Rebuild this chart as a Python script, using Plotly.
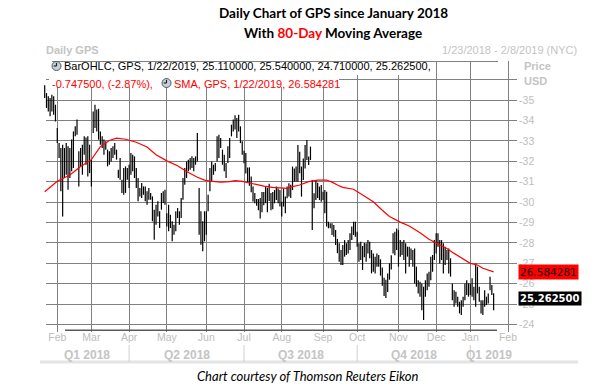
import pandas as pd
import plotly.graph_objects as go

# ------------------------------------------------------------------ data
holidays = ["2018-02-19", "2018-03-30", "2018-05-28", "2018-07-04", "2018-09-03",
            "2018-11-22", "2018-12-05", "2018-12-25", "2019-01-01", "2019-01-21"]
calendar = pd.bdate_range("2018-01-23", "2019-02-08", freq="C", holidays=holidays)

highs = [
    35.72, 35.34, 35.18, 35.10, 35.26, 35.18, 34.77, 33.63, 32.89, 32.65,
    32.81, 32.65, 32.89, 32.73, 32.65, 33.06, 33.46, 33.71, 34.04, 32.49,
    32.65, 32.81, 33.22, 33.17, 33.22, 32.81, 32.08, 34.44, 34.77, 34.53,
    34.57, 33.46, 33.22, 33.06, 32.98, 32.57, 32.49, 32.65, 32.73, 32.89,
    32.57, 31.59, 32.16, 31.10, 31.67, 31.75, 31.67, 31.83, 32.40, 32.32,
    32.24, 31.67, 31.18, 30.69, 30.93, 30.77, 30.77, 30.53, 30.69, 30.45,
    30.28, 29.63, 29.87, 30.04, 29.55, 30.45, 30.53, 30.61, 29.46, 29.87,
    29.38, 29.06, 28.89, 29.55, 29.71, 29.55, 30.20, 31.18, 31.67, 31.99,
    32.08, 32.16, 32.24, 32.16, 32.24, 33.38, 30.69, 29.55, 29.06, 29.55,
    29.55, 30.36, 31.67, 31.99, 31.83, 31.91, 33.22, 33.30, 33.14, 32.57,
    32.32, 31.91, 32.73, 33.14, 33.79, 34.04, 34.25, 34.12, 34.28, 33.71,
    32.98, 32.52, 32.40, 31.70, 31.70, 31.25, 30.77, 30.45, 30.15, 30.15,
    30.20, 30.50, 30.50, 30.78, 30.70, 30.90, 30.45, 30.50, 30.59, 30.76,
    30.67, 30.59, 30.02, 30.67, 30.27, 30.76, 30.92, 30.85, 31.74, 31.65,
    31.74, 32.80, 32.47, 31.74, 32.14, 32.80, 33.04, 32.23, 32.72, 31.08,
    30.43, 31.08, 30.95, 30.76, 30.84, 30.51, 30.59, 30.51, 29.04, 28.96,
    28.96, 28.88, 28.63, 28.20, 27.98, 27.65, 27.90, 28.14, 27.98, 28.14,
    28.47, 28.80, 29.04, 29.04, 28.55, 27.98, 28.06, 27.85, 28.00, 27.98,
    28.14, 28.06, 27.65, 27.49, 27.33, 27.49, 27.41, 27.20, 26.80, 26.30,
    26.20, 26.50, 27.00, 27.40, 28.47, 28.55, 28.71, 28.63, 28.14, 28.06,
    28.14, 27.98, 27.82, 27.82, 27.73, 27.65, 27.73, 26.84, 26.18, 26.10,
    26.02, 25.86, 26.18, 26.51, 26.59, 27.33, 27.41, 28.14, 28.47, 28.47,
    28.14, 28.14, 27.98, 27.82, 27.65, 27.73, 27.25, 26.02, 25.69, 25.61,
    25.37, 25.12, 25.20, 25.37, 26.02, 26.18, 26.02, 26.02, 26.27, 25.86,
    27.00, 26.84, 25.86, 25.20, 25.20, 25.69, 25.37, 25.53, 26.35, 25.94,
    25.54]

lows = [
    35.10, 34.61, 34.44, 34.20, 34.44, 34.28, 33.95, 32.89, 32.16, 30.53,
    29.30, 31.18, 31.34, 30.61, 31.18, 31.51, 31.67, 33.22, 33.30, 30.77,
    31.75, 31.34, 32.32, 31.83, 31.26, 31.42, 30.77, 33.38, 33.63, 33.46,
    33.06, 32.81, 32.65, 32.32, 32.57, 31.75, 31.83, 31.99, 32.16, 32.32,
    32.08, 31.18, 31.10, 30.45, 30.36, 30.45, 31.10, 30.69, 31.34, 31.51,
    31.18, 30.69, 30.04, 30.28, 30.20, 30.36, 30.04, 29.87, 30.12, 30.12,
    29.06, 28.16, 28.89, 29.30, 28.73, 29.63, 29.96, 29.87, 28.81, 28.57,
    28.73, 28.08, 28.40, 28.57, 29.22, 28.89, 29.22, 30.12, 30.85, 31.18,
    31.51, 31.59, 31.67, 31.51, 31.83, 31.99, 28.40, 27.91, 27.59, 28.08,
    28.40, 29.55, 30.53, 31.02, 31.34, 31.51, 31.99, 32.16, 32.65, 31.83,
    31.51, 31.18, 31.91, 32.16, 33.22, 33.46, 33.55, 33.14, 33.46, 32.89,
    32.32, 31.90, 31.40, 30.95, 30.80, 30.48, 30.03, 29.95, 29.82, 29.60,
    29.20, 29.50, 29.85, 29.95, 29.50, 30.05, 29.60, 29.65, 29.94, 30.10,
    29.94, 29.78, 29.29, 29.78, 29.45, 30.19, 30.27, 30.20, 30.59, 31.00,
    31.00, 31.00, 31.41, 30.27, 31.08, 31.65, 32.06, 31.82, 32.06, 28.63,
    29.70, 30.10, 30.20, 30.10, 30.02, 30.10, 29.45, 28.80, 28.72, 28.72,
    28.39, 28.31, 27.90, 27.50, 27.08, 26.92, 26.92, 27.33, 27.41, 27.49,
    27.65, 28.14, 28.39, 28.31, 27.82, 27.08, 27.17, 26.68, 27.30, 27.08,
    27.49, 27.25, 26.51, 26.59, 26.51, 26.84, 26.84, 26.40, 25.90, 25.40,
    25.30, 25.60, 26.20, 26.70, 27.49, 27.40, 27.65, 26.84, 27.33, 27.41,
    27.16, 26.51, 27.33, 26.84, 27.16, 26.84, 26.02, 25.86, 25.53, 25.37,
    24.71, 24.23, 25.37, 25.69, 25.86, 26.18, 26.59, 27.16, 27.49, 27.82,
    27.00, 27.16, 26.51, 26.92, 27.16, 26.51, 26.35, 25.20, 24.88, 25.04,
    24.88, 24.55, 24.47, 24.88, 25.20, 25.45, 25.37, 25.45, 25.37, 25.20,
    24.88, 25.53, 25.12, 24.55, 24.47, 24.88, 24.96, 25.04, 25.69, 25.45,
    24.71]

# 80-day SMA (trading-day number, value)
sma_day = [0, 7, 14, 20, 26, 31, 36, 40, 45, 51, 57, 62, 68, 74, 79, 85, 89, 92,
           98, 103, 106, 110, 116, 122, 127, 135, 138, 142, 147, 152, 157, 160,
           163, 166, 172, 177, 183, 188, 192, 198, 203, 209, 214, 219, 224, 228,
           233, 237, 241, 244, 250]
sma_value = [30.51, 31.02, 31.33, 31.74, 32.08, 32.72, 33.02, 33.13, 33.08, 32.93,
             32.70, 32.32, 32.02, 31.78, 31.50, 31.22, 31.08, 31.03, 30.98, 31.00,
             31.05, 31.02, 30.90, 30.78, 30.72, 30.67, 30.76, 30.84, 31.00, 31.08,
             31.08, 30.98, 30.84, 30.72, 30.63, 30.35, 30.02, 29.60, 29.30, 29.02,
             28.83, 28.50, 28.18, 27.95, 27.73, 27.49, 27.20, 27.00, 26.92, 26.76,
             26.584281]

month_labels = ["Feb", "Mar", "Apr", "May", "Jun", "Jul", "Aug", "Sep", "Oct",
                "Nov", "Dec", "Jan", "Feb"]
quarter_labels = ["Q1 2018", "Q2 2018", "Q3 2018", "Q4 2018", "Q1 2019"]
price_ticks = [24, 25, 26, 27, 28, 29, 30, 31, 32, 33, 34, 35, 36]

last_date = "1/22/2019"
last_open = 25.11
last_high = 25.54
last_low = 24.71
last_close = 25.2625
last_change = -0.7475
last_change_pct = -2.87
last_sma = 26.584281
range_text = "1/23/2018 - 2/8/2019 (NYC)"

# ------------------------------------------------------------------ layout helpers
W_PX, H_PX = 607, 391
L, R, T, B = 44, 508, 61, 332
PW, PH = R - L, B - T
Y_LO, Y_HI = 23.64, 36.91


def px_x(px):
    return (px - L) / PW


def px_y(py):
    return (B - py) / PH


day_no = pd.Series(range(len(calendar)), index=calendar)
firsts = [int(v) for v in day_no.groupby([calendar.year, calendar.month]).min().tolist()]
month_ticks = firsts[1:1 + len(month_labels)]
x_left, x_right = -0.39, month_ticks[-1]
q_starts = [x_left, month_ticks[2], month_ticks[5], month_ticks[8], month_ticks[11], x_right]

GRID = "#808080"
LIGHT = "#c4c4c4"

fig = go.Figure()

# daily high-low bars
bx, by = [], []
for i, (h, l) in enumerate(zip(highs, lows)):
    bx += [i, i, None]
    by += [l, h, None]
fig.add_trace(go.Scatter(x=bx, y=by, mode="lines", line=dict(color="black", width=1.2)))
fig.add_trace(go.Scatter(x=sma_day, y=sma_value, mode="lines",
                         line=dict(color="#ff0000", width=1.2)))

fig.update_layout(
    width=W_PX, height=H_PX,
    margin=dict(l=L, r=W_PX - R, t=T, b=H_PX - B),
    paper_bgcolor="white", plot_bgcolor="white", showlegend=False,
    xaxis=dict(range=[x_left, x_right], tickvals=month_ticks, ticktext=month_labels,
               showgrid=True, gridcolor=GRID, gridwidth=1, ticklabelstandoff=-3,
               tickfont=dict(family="Liberation Sans", size=10.5, color="#bdbdbd")),
    yaxis=dict(side="right", range=[Y_LO, Y_HI], tickvals=price_ticks,
               ticktext=["-%d" % v if v < 36 else " " for v in price_ticks],
               showgrid=True, gridcolor=GRID, gridwidth=1, ticks="outside", ticklen=8,
               tickcolor=GRID, showline=True, linecolor=GRID, linewidth=1,
               tickfont=dict(family="Liberation Sans", size=10.5, color="#bdbdbd")),
)

# ------------------------------------------------------------------ shapes
shapes = [
    # white panels behind the legend text
    dict(type="rect", xref="paper", yref="paper", x0=px_x(49), x1=px_x(433),
         y0=px_y(75), y1=px_y(62.5), fillcolor="white", line_width=0),
    dict(type="rect", xref="paper", yref="paper", x0=px_x(49), x1=px_x(339),
         y0=px_y(87), y1=px_y(75), fillcolor="white", line_width=0),
    # top frame line
    dict(type="rect", xref="paper", yref="paper", x0=px_x(52), x1=px_x(498),
         y0=px_y(62), y1=px_y(61), fillcolor=GRID, line_width=0),
    # bottom dark navigator line
    dict(type="rect", xref="paper", yref="paper", x0=px_x(65), x1=px_x(497),
         y0=px_y(331), y1=px_y(329.5), fillcolor="#5a5a5a", line_width=0),
    # light grey band under the axis
    dict(type="rect", xref="paper", yref="paper", x0=px_x(40), x1=px_x(578),
         y0=px_y(363.5), y1=px_y(360.5), fillcolor="#e4e4e4", line_width=0),
]
# quarter separators
for q in q_starts[1:5]:
    shapes.append(dict(type="line", xref="x", yref="paper", x0=q, x1=q,
                       y0=px_y(345), y1=px_y(362), line=dict(color="#d0d0d0", width=1)))
# clock icons
for cx, cy in [(56.5, 66), (166.5, 83)]:
    shapes.append(dict(type="circle", xref="paper", yref="paper",
                       x0=px_x(cx - 4.5), x1=px_x(cx + 4.5), y0=px_y(cy + 4.5),
                       y1=px_y(cy - 4.5), fillcolor="#c7d1db",
                       line=dict(color="#4d5863", width=1)))
    shapes.append(dict(type="line", xref="paper", yref="paper", x0=px_x(cx), x1=px_x(cx),
                       y0=px_y(cy), y1=px_y(cy - 3.2), line=dict(color="#222222", width=1.2)))
    shapes.append(dict(type="line", xref="paper", yref="paper", x0=px_x(cx),
                       x1=px_x(cx - 2.8), y0=px_y(cy), y1=px_y(cy),
                       line=dict(color="#222222", width=1.2)))
fig.update_layout(shapes=shapes)

# ------------------------------------------------------------------ annotations
ann = []


def text(x, y, s, size, color, family="Liberation Sans", xanchor="center", xref="paper",
         yref="paper", **kw):
    ann.append(dict(x=x, y=y, xref=xref, yref=yref, text=s, showarrow=False,
                    xanchor=xanchor, yanchor="middle",
                    font=dict(family=family, size=size, color=color), **kw))


text(px_x(333), px_y(13), "<b>Daily Chart of GPS since January 2018</b>", 13.5, "black", "Lato")
text(px_x(333), px_y(33),
     "<b>With <span style='color:#ff0000'>80-Day</span> Moving Average</b>", 13.5, "black", "Lato")
text(px_x(44), px_y(50), "<b>Daily GPS</b>", 11, LIGHT, xanchor="left")
text(px_x(579), px_y(50), range_text, 11, LIGHT, xanchor="right")
text(px_x(61.5), px_y(66.5),
     f"BarOHLC, GPS, {last_date}, {last_open:.6f}, {last_high:.6f}, {last_low:.6f}, {last_close:.6f},",
     11, "black", xanchor="left")
text(px_x(50), px_y(83.5), f"{last_change:.6f}, ({last_change_pct:.2f}%), ", 11, "#ff0000",
     xanchor="left")
text(px_x(171.5), px_y(83.5), f"SMA, GPS, {last_date}, {last_sma:.6f}", 11, "#ff0000",
     xanchor="left")
text(px_x(522), px_y(66), "<b>Price</b>", 11, LIGHT, xanchor="left")
text(px_x(522), px_y(81), "<b>USD</b>", 11, LIGHT, xanchor="left")
# last-value boxes on the price axis
text(px_x(518), last_sma, f"{last_sma:.6f}", 10.5, "#1a0000", "DejaVu Sans",
     xanchor="left", yref="y", bgcolor="#ff0000", borderpad=1)
text(px_x(518), last_close, f"<b>{last_close:.6f}</b>", 10, "white", "DejaVu Sans",
     xanchor="left", yref="y", bgcolor="black", borderpad=1)
# quarter labels
for i, q in enumerate(quarter_labels):
    mid = (q_starts[i] + q_starts[i + 1]) / 2
    text(mid, px_y(355), f"<b>{q}</b>", 12, LIGHT, xref="x")
text(px_x(308), px_y(376), "<i>Chart courtesy of Thomson Reuters Eikon</i>", 13, "black", "Lato")

fig.update_layout(annotations=ann)
fig.write_html(
    "out.html",
    config={"displayModeBar": False, "staticPlot": True},
    post_script="document.body.style.margin='0';",
)
